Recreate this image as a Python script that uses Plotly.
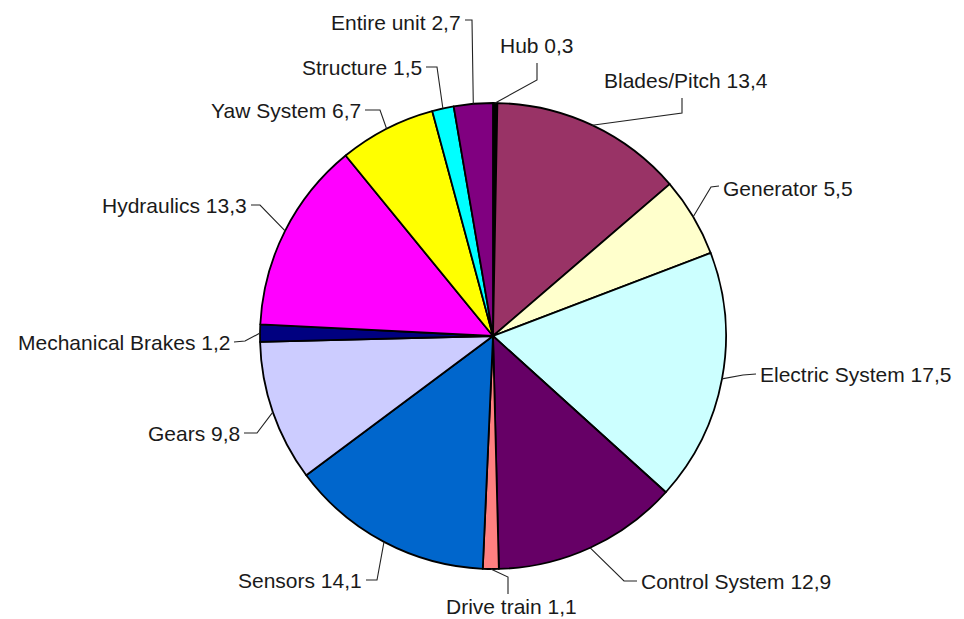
import numpy as np
import plotly.graph_objects as go

# Failure share per component (%), clockwise from 12 o'clock
labels = ["Hub", "Blades/Pitch", "Generator", "Electric System", "Control System",
          "Drive train", "Sensors", "Gears", "Mechanical Brakes", "Hydraulics",
          "Yaw System", "Structure", "Entire unit"]
values = [0.3, 13.4, 5.5, 17.5, 12.9, 1.1, 14.1, 9.8, 1.2, 13.3, 6.7, 1.5, 2.7]
colors = ["#000000", "#993366", "#FFFFCC", "#CCFFFF", "#660066", "#FF8080",
          "#0066CC", "#CCCCFF", "#000080", "#FF00FF", "#FFFF00", "#00FFFF", "#800080"]

W, H = 964, 619
OFF = 8  # page body margin, so the figure itself is a bit smaller
cx, cy, r = 493, 336, 233

# label text position (page px), anchor, leader start and elbow (page px)
label_pos = [
    (537, 45, "center", (537, 63), (537, 80)),
    (686, 80, "center", (682, 98), (682, 113)),
    (721, 188, "left", (719, 186), (711, 187)),
    (758, 374, "left", (756, 374), (743, 375)),
    (639, 581, "left", (637, 581), (624, 581)),
    (511, 606, "center", (508, 594), (508, 577)),
    (364, 580, "right", (366, 580), (377, 580)),
    (242, 433, "right", (244, 433), (257, 433)),
    (232, 342, "right", (234, 342), (245, 341)),
    (249, 205, "right", (251, 205), (260, 205)),
    (363, 110, "right", (365, 110), (380, 110)),
    (424, 67, "right", (426, 67), (437, 67)),
    (463, 22, "right", (465, 20), (472, 20)),
]

FW, FH = W - OFF, H - OFF

fig = go.Figure()
fig.add_trace(go.Pie(
    labels=labels, values=values, sort=False, direction="clockwise", rotation=0,
    marker=dict(colors=colors, line=dict(color="#000000", width=1.8)),
    textinfo="none", hoverinfo="label+value", showlegend=False,
    domain=dict(x=[(cx - r - OFF) / FW, (cx + r - OFF) / FW],
                y=[1 - (cy + r - OFF) / FH, 1 - (cy - r - OFF) / FH]),
))

# edge point of each slice at its mid angle
total = sum(values)
cum = np.cumsum([0] + values[:-1])
mid = (cum + np.array(values) / 2) / total * 2 * np.pi

shapes, annots = [], []
for i, name in enumerate(labels):
    px_, py_ = cx + r * np.sin(mid[i]), cy - r * np.cos(mid[i])
    tx, ty, anc, (sx, sy), (ex, ey) = label_pos[i]
    shapes.append(dict(type="path", xref="x", yref="y",
                       path=f"M {sx},{sy} L {ex},{ey} L {px_:.1f},{py_:.1f}",
                       line=dict(color="#222222", width=1.1)))
    annots.append(dict(x=tx, y=ty, xref="x", yref="y", xanchor=anc, yanchor="middle",
                       text=f"{name} {values[i]}".replace(".", ","), showarrow=False,
                       font=dict(size=21, color="#1a1a1a", family="Liberation Sans, Arial")))

fig.update_layout(
    width=FW, height=FH, margin=dict(l=0, r=0, t=0, b=0),
    paper_bgcolor="white", plot_bgcolor="white",
    xaxis=dict(range=[OFF, W], visible=False, fixedrange=True),
    yaxis=dict(range=[H, OFF], visible=False, fixedrange=True),
    shapes=shapes, annotations=annots,
)
fig.write_html("out.html")
